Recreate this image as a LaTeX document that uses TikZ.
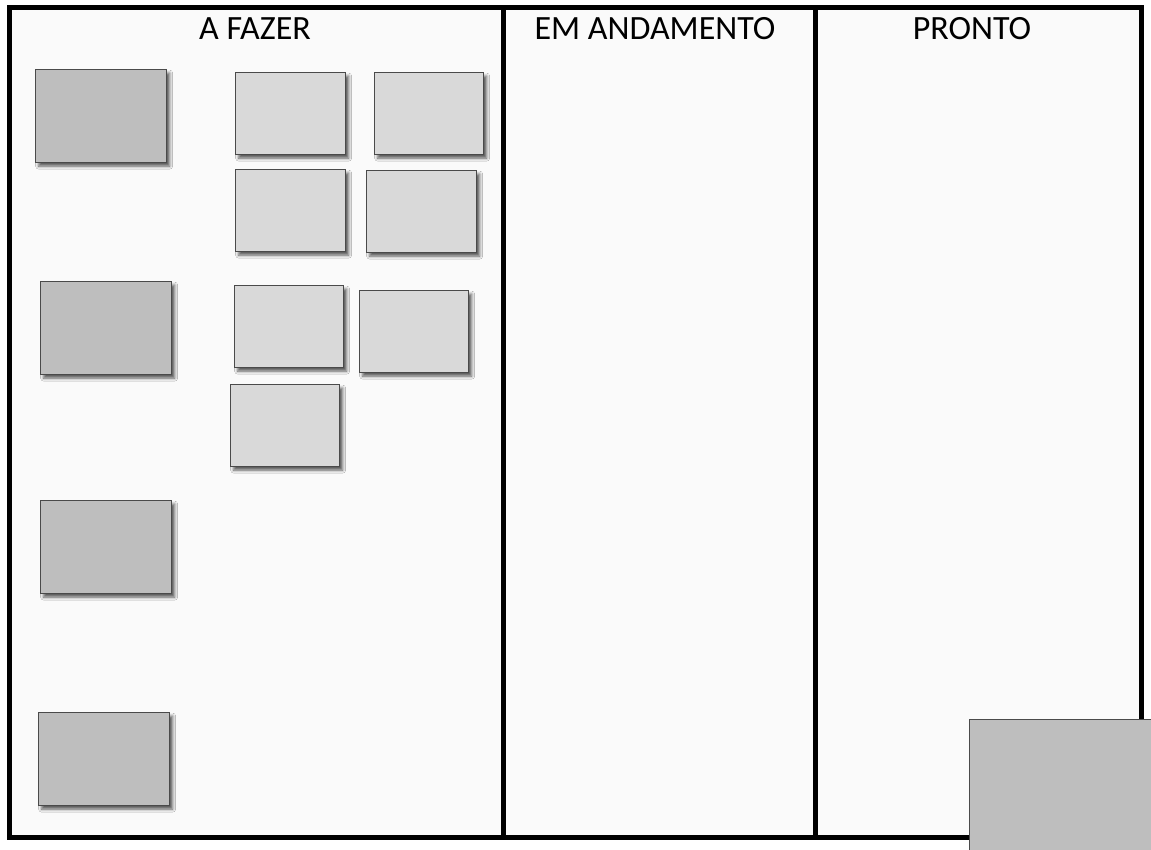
\documentclass[tikz,border=0pt]{standalone}
\usepackage{fontspec}
\setmainfont{Carlito}
\usetikzlibrary{shadows.blur}
\definecolor{boardbg}{HTML}{FAFAFA}
\definecolor{darkcard}{HTML}{BEBEBE}
\definecolor{lightcard}{HTML}{D9D9D9}
\definecolor{cardedge}{HTML}{4A4A4A}
\tikzset{
  frameline/.style={line width=5pt, draw=black, line cap=rect},
  cardbase/.style={draw=cardedge, line width=1.3pt, anchor=north west, inner sep=0pt,
    blur shadow={shadow xshift=3pt, shadow yshift=-3.5pt, shadow blur radius=3pt, shadow opacity=65}},
  darkcardbox/.style={cardbase, fill=darkcard, minimum width=131pt, minimum height=93pt},
  lightcardbox/.style={cardbase, fill=lightcard, minimum width=110pt, minimum height=82pt},
  colhead/.style={font=\fontsize{34pt}{40pt}\selectfont, anchor=base, inner sep=0pt}
}
\begin{document}
\begin{tikzpicture}[x=1pt,y=-1pt]
\useasboundingbox (0,0) rectangle (1151,850);
\fill[white] (0,0) rectangle (1151,850);
% board
\draw[frameline, fill=boardbg] (9,7.5) rectangle (1141,837);
\draw[frameline] (503,7.5) coordinate (d1top) -- (503,837) coordinate (d1bot);
\draw[frameline] (815,7.5) coordinate (d2top) -- (815,837) coordinate (d2bot);
% headings
\node[colhead] (hTodo) at (255,40) {A FAZER};
\node[colhead] (hDoing) at (655,40) {EM ANDAMENTO};
\node[colhead] (hDone) at (972,40) {PRONTO};
% dark cards
\node[darkcardbox] (s1) at (35,69) {};
\node[darkcardbox] (s2) at (40,281) {};
\node[darkcardbox] (s3) at (40,500) {};
\node[darkcardbox] (s4) at (38,712) {};
% light cards
\node[lightcardbox] (t1) at (235,72) {};
\node[lightcardbox, minimum width=109pt] (t2) at (374,72) {};
\node[lightcardbox] (t3) at (235,169) {};
\node[lightcardbox] (t4) at (366,170) {};
\node[lightcardbox, minimum width=109pt] (t5) at (234,285) {};
\node[lightcardbox, minimum width=109pt] (t6) at (359,290) {};
\node[lightcardbox, minimum width=109pt] (t7) at (230,384) {};
% card overlapping bottom-right corner
\node[draw=cardedge, line width=1pt, fill=darkcard, anchor=north west, inner sep=0pt,
      minimum width=200pt, minimum height=150pt] (s5) at (969,719) {};
\end{tikzpicture}
\end{document}
